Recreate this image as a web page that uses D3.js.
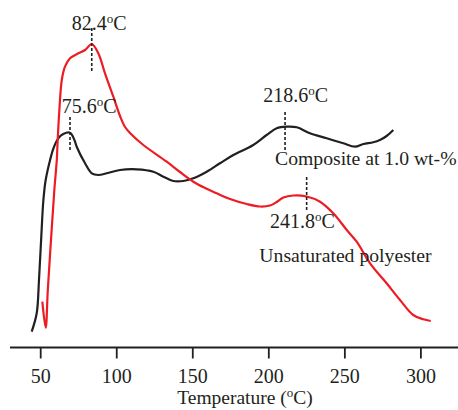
<!DOCTYPE html>
<html>
<head>
<meta charset="utf-8">
<script src="https://cdn.jsdelivr.net/npm/d3@7"></script>
<style>
  html, body { margin: 0; padding: 0; background: #fff; }
  svg text { font-family: "Liberation Serif", "Times New Roman", serif; fill: #231f20; }
</style>
</head>
<body>
<svg id="chart" width="458" height="410"></svg>
<script>
// ---- data (temperature in °C, heat flow in arbitrary units) ----
const tempTicks = [50, 100, 150, 200, 250, 300];

const polyesterT = [51.4, 53.6, 55.0, 57.1, 59.3, 60.9, 61.5, 62.6, 64.2, 66.3, 69.6, 75.1, 79.5, 83.9,
  88.2, 92.6, 98.1, 102.5, 105.8, 109.7, 117.8, 133.2, 141.9, 150.7, 158.4, 166.1, 174.8,
  185.8, 194.5, 201.1, 205.5, 209.9, 216.4, 225.2, 234.0, 242.7, 251.6, 258.1, 266.9, 277.8,
  286.6, 295.3, 301.9, 306.8];
const polyesterHF = [46.3, 20.3, 58, 108, 158, 188, 208, 238, 268, 281.3, 289.7, 294.7, 298, 304,
  294.7, 274.7, 251.3, 232, 221, 214, 203, 186.3, 176, 166.3, 160, 154.7, 149,
  144, 141.5, 142.5, 146, 150.5, 152.5, 151.5, 146.3, 134.7, 118, 106.3, 84.7, 64.7,
  48, 33, 28.7, 27];

const compositeT = [44.4, 47.7, 49.2, 50.6, 52.1, 53.6, 56.5, 58.7, 61.9, 65.2, 69.6, 72.5, 74.0,
  79.5, 83.9, 88.2, 93.8, 102.5, 113.5, 124.4, 131.0, 137.5, 144.1, 150.7, 159.5, 168.2, 177.0,
  190.1, 198.9, 205.5, 212.1, 218.7, 227.4, 238.4, 249.3, 257.0, 262.5, 269.0, 273.4, 277.8, 282.2];
const compositeHF = [16.3, 34.7, 68, 108, 148, 168, 188, 199.7, 209.7, 214, 215.3, 208, 201.3,
  184.7, 174.7, 173, 174.7, 178, 178.7, 176.3, 171.3, 167, 167, 169.7, 176.3, 184.7, 193,
  203, 213, 219.7, 221.3, 220.7, 214.7, 209.7, 204.7, 201.3, 204, 205.7, 208, 212, 218];

// peak markers: label text, marker position, dashed segment extent
const peakLabels = ["82.4", "75.6", "218.6", "241.8"];
const peakT      = [83.9, 69.6, 211.0, 225.2];
const peakTop    = [320, 231, 236, 171];
const peakBottom = [275, 198, 196, 136];
const peakLabelT = [70.7, 64.2, 196.7, 201.1];
const peakLabelHF= [318, 235, 246.5, 119.7];

const seriesNames  = ["Composite at 1.0 wt-%", "Unsaturated polyester"];
const seriesLabelT = [204.4, 194.1];
const seriesLabelHF= [183, 86.3];
const xTitle = "Temperature (";

// ---- drawing ----
const svg = d3.select("#chart");
const x = d3.scaleLinear().domain([50, 300]).range([40.2, 420.4]);
const y = d3.scaleLinear().domain([0, 348]).range([348, 0]);

const line = d3.line().x(d => x(d[0])).y(d => y(d[1])).curve(d3.curveCatmullRom.alpha(0.5));

svg.append("path")
  .datum(compositeT.map((t, i) => [t, compositeHF[i]]))
  .attr("d", line).attr("fill", "none")
  .attr("stroke", "#231f20").attr("stroke-width", 2.2).attr("stroke-linejoin", "round");

svg.append("path")
  .datum(polyesterT.map((t, i) => [t, polyesterHF[i]]))
  .attr("d", line).attr("fill", "none")
  .attr("stroke", "#ed1c24").attr("stroke-width", 2.2).attr("stroke-linejoin", "round");

// axis
const axisY = 347.5;
const xAxis = d3.axisBottom(x).tickValues(tempTicks).tickSize(11).tickPadding(10);
const gx = svg.append("g").attr("transform", `translate(0,${axisY})`).call(xAxis);
gx.select(".domain").remove();
gx.selectAll(".tick line").attr("stroke", "#231f20").attr("stroke-width", 1.8);
gx.selectAll(".tick text").attr("font-size", 20).attr("font-family", "Liberation Serif").attr("fill", "#231f20");
svg.append("line").attr("x1", 10).attr("x2", 458).attr("y1", axisY).attr("y2", axisY)
  .attr("stroke", "#231f20").attr("stroke-width", 2);

// axis title
const title = svg.append("text").attr("x", 245).attr("y", 404).attr("text-anchor", "middle")
  .attr("font-size", 19.5);
title.append("tspan").text(xTitle);
title.append("tspan").attr("font-size", 13).attr("dy", -7).text("o");
title.append("tspan").attr("dy", 7).text("C)");

// peak dashed markers
peakT.forEach((t, i) => {
  svg.append("line")
    .attr("x1", x(t)).attr("x2", x(t))
    .attr("y1", y(peakTop[i])).attr("y2", y(peakBottom[i]))
    .attr("stroke", "#231f20").attr("stroke-width", 1.6).attr("stroke-dasharray", "3,2");
  const tx = svg.append("text").attr("x", x(peakLabelT[i])).attr("y", y(peakLabelHF[i]))
    .attr("font-size", 20);
  tx.append("tspan").text(peakLabels[i]);
  tx.append("tspan").attr("font-size", 13).attr("dy", -7).text("o");
  tx.append("tspan").attr("dy", 7).text("C");
});

// series labels
seriesNames.forEach((n, i) => {
  svg.append("text").attr("x", x(seriesLabelT[i])).attr("y", y(seriesLabelHF[i]))
    .attr("font-size", 19.7).text(n);
});
</script>
</body>
</html>
